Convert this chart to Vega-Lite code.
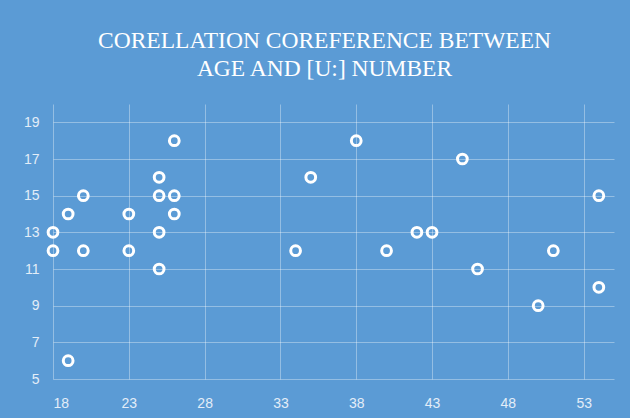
{
  "$schema": "https://vega.github.io/schema/vega-lite/v6.json",
  "width": 561,
  "height": 275,
  "autosize": {"type": "none"},
  "padding": {"left": 53, "top": 104, "right": 16, "bottom": 39},
  "background": "#5B9BD5",
  "title": {
    "text": ["CORELLATION COREFERENCE BETWEEN", "AGE AND [U:] NUMBER"],
    "font": "Liberation Serif",
    "fontSize": 23.5,
    "fontWeight": "normal",
    "color": "#FFFFFF",
    "lineHeight": 28,
    "anchor": "middle",
    "dx": -9,
    "offset": 24
  },
  "data": {
    "values": [
      {"age": 18, "count": 13}, {"age": 18, "count": 12}, {"age": 19, "count": 14}, {"age": 19, "count": 6},
      {"age": 20, "count": 15}, {"age": 20, "count": 12}, {"age": 23, "count": 14}, {"age": 23, "count": 12},
      {"age": 25, "count": 16}, {"age": 25, "count": 15}, {"age": 25, "count": 13}, {"age": 25, "count": 11},
      {"age": 26, "count": 18}, {"age": 26, "count": 15}, {"age": 26, "count": 14},
      {"age": 34, "count": 12}, {"age": 35, "count": 16}, {"age": 38, "count": 18}, {"age": 40, "count": 12},
      {"age": 42, "count": 13}, {"age": 43, "count": 13}, {"age": 45, "count": 17}, {"age": 46, "count": 11},
      {"age": 50, "count": 9}, {"age": 51, "count": 12}, {"age": 54, "count": 15}, {"age": 54, "count": 10}
    ]
  },
  "mark": {"type": "point", "shape": "circle", "filled": false, "color": "#FFFFFF", "strokeWidth": 3, "size": 95, "opacity": 1},
  "encoding": {
    "x": {
      "field": "age", "type": "quantitative",
      "scale": {"domain": [18, 55], "nice": false, "zero": false},
      "axis": {"values": [18, 23, 28, 33, 38, 43, 48, 53], "title": null, "labelPadding": 17}
    },
    "y": {
      "field": "count", "type": "quantitative",
      "scale": {"domain": [5, 20], "nice": false, "zero": false},
      "axis": {"values": [5, 7, 9, 11, 13, 15, 17, 19], "title": null, "labelPadding": 14}
    }
  },
  "config": {
    "view": {"stroke": null},
    "axis": {
      "domain": false,
      "ticks": false,
      "grid": true,
      "gridColor": "#FFFFFF",
      "gridOpacity": 0.35,
      "gridWidth": 1,
      "labelColor": "#E3EDF8",
      "labelFont": "Liberation Sans",
      "labelFontSize": 14
    }
  }
}
